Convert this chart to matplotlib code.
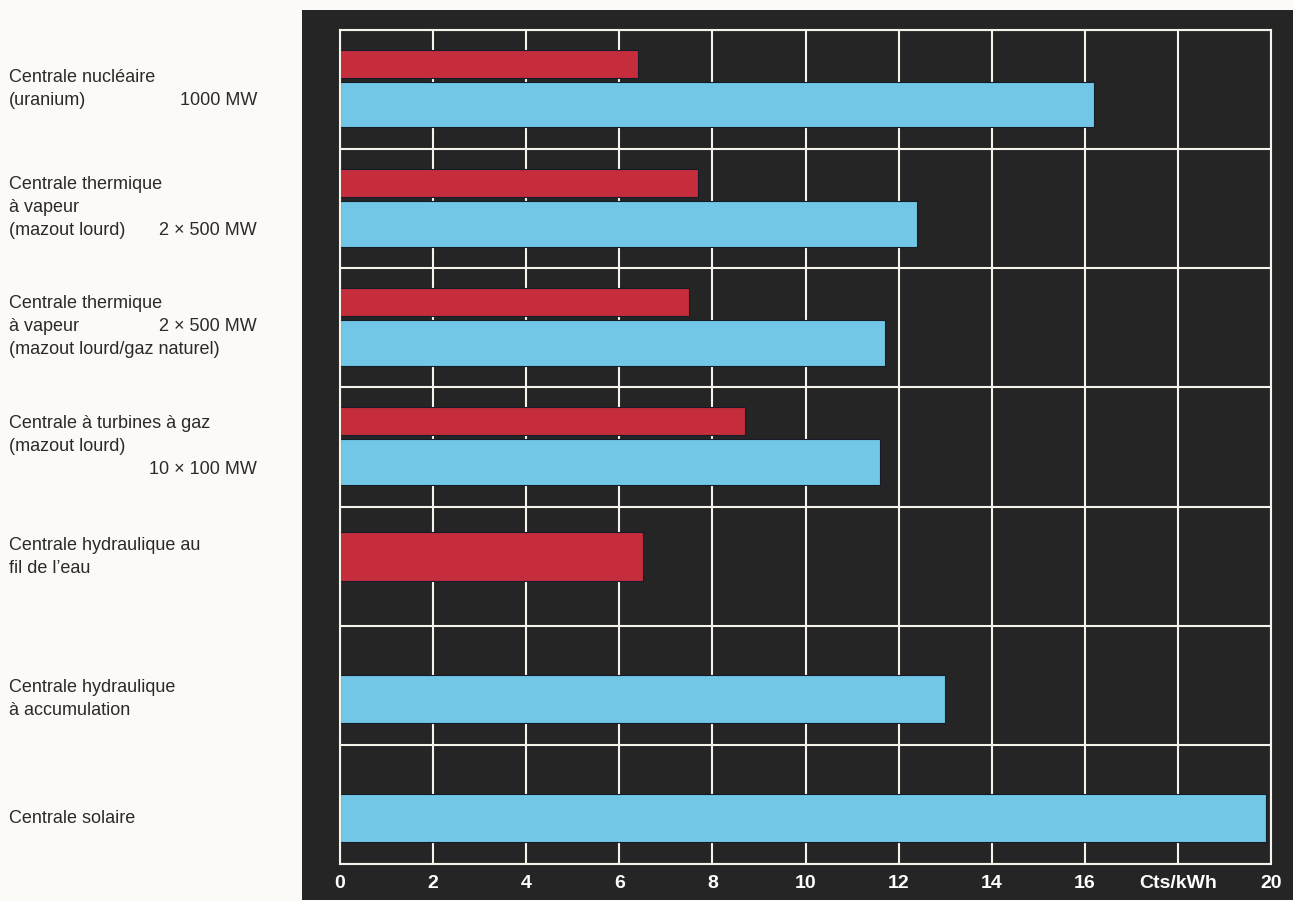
import numpy as np
import matplotlib
matplotlib.use("Agg")
from matplotlib import pyplot as plt
from matplotlib import transforms as mtransforms
from matplotlib.patches import Rectangle

plt.rcParams["font.family"] = ["Liberation Sans", "DejaVu Sans"]

#%% data
label_lines = [
    ["Centrale nucléaire", "(uranium)"],
    ["Centrale thermique", "à vapeur", "(mazout lourd)"],
    ["Centrale thermique", "à vapeur", "(mazout lourd/gaz naturel)"],
    ["Centrale à turbines à gaz", "(mazout lourd)", ""],
    ["Centrale hydraulique au", "fil de l\u2019eau"],
    ["Centrale hydraulique", "à accumulation"],
    ["Centrale solaire"],
]
# (line index, power) written right-aligned next to the label
power_labels = [(1, "1000 MW"), (2, "2 \u00d7 500 MW"), (1, "2 \u00d7 500 MW"),
                (2, "10 \u00d7 100 MW"), None, None, None]

red_vals = [6.4, 7.7, 7.5, 8.7, 6.5, np.nan, np.nan]
blue_vals = [16.2, 12.4, 11.7, 11.6, np.nan, 13.0, 19.9]

x_ticks = [0, 2, 4, 6, 8, 10, 12, 14, 16, 18, 20]
x_ticklabels = ["0", "2", "4", "6", "8", "10", "12", "14", "16", "Cts/kWh", "20"]

#%% style
page = "#fbfaf6"
panel = "#262525"
red = "#c52d3d"
blue = "#72c7e6"
edge = "#161c2a"
grid_c = "#f6f3ea"
text_c = "#2b2a28"

fig = plt.figure(figsize=(12.93, 9.01), dpi=100, facecolor=page)
fig.patches.append(Rectangle((302 / 1293, 1 / 901), 1 - 302 / 1293, 890 / 901,
                             transform=fig.transFigure, facecolor=panel,
                             edgecolor="none", zorder=-1))

ax = fig.add_axes([340 / 1293, 1 - 864 / 901, 931 / 1293, 834 / 901])
ax.set_facecolor(panel)
ax.set_axisbelow(True)

n = len(label_lines)
rows = np.arange(n)

# bar placement inside each row
red_c, red_h = 0.285, 0.235
blue_c, blue_h = 0.625, 0.385
red_only_c, red_only_h = 0.42, 0.41
blue_only_c, blue_only_h = 0.615, 0.40

for i in rows:
    has_r = not np.isnan(red_vals[i])
    has_b = not np.isnan(blue_vals[i])
    if has_r and has_b:
        ax.barh(i + red_c, red_vals[i], height=red_h, color=red, edgecolor=edge, linewidth=0.8)
        ax.barh(i + blue_c, blue_vals[i], height=blue_h, color=blue, edgecolor=edge, linewidth=0.8)
    elif has_r:
        ax.barh(i + red_only_c, red_vals[i], height=red_only_h, color=red, edgecolor=edge, linewidth=0.8)
    elif has_b:
        ax.barh(i + blue_only_c, blue_vals[i], height=blue_only_h, color=blue, edgecolor=edge, linewidth=0.8)

ax.set_xlim(0, 20)
ax.set_ylim(n, 0)
ax.set_xticks(x_ticks)
ax.set_xticklabels(x_ticklabels, color="white", fontsize=14, fontweight="bold")
ax.set_yticks(np.arange(n + 1))
ax.set_yticklabels([])
ax.tick_params(length=0, axis="x", pad=8)
ax.tick_params(length=0, axis="y")
ax.grid(True, color=grid_c, linewidth=1.5)
for sp in ax.spines.values():
    sp.set_color(grid_c)
    sp.set_linewidth(1.5)

#%% row labels on the left
trans = mtransforms.blended_transform_factory(fig.transFigure, ax.transData)
step = 23 / 119.1
for i, lines in enumerate(label_lines):
    has_r = not np.isnan(red_vals[i])
    has_b = not np.isnan(blue_vals[i])
    if has_r and has_b:
        center = i + (red_c - red_h / 2 + blue_c + blue_h / 2) / 2
    elif has_r:
        center = i + red_only_c
    else:
        center = i + blue_only_c
    m = len(lines)
    for j, line in enumerate(lines):
        y = center + (j - (m - 1) / 2) * step
        fig.text(9 / 1293, y, line, transform=trans, ha="left", va="center",
                 fontsize=13, color=text_c)
    if power_labels[i] is not None:
        j, txt = power_labels[i]
        y = center + (j - (m - 1) / 2) * step
        fig.text(257 / 1293, y, txt, transform=trans, ha="right", va="center",
                 fontsize=13, color=text_c)

fig.savefig("out.png", dpi=100, facecolor=page)
